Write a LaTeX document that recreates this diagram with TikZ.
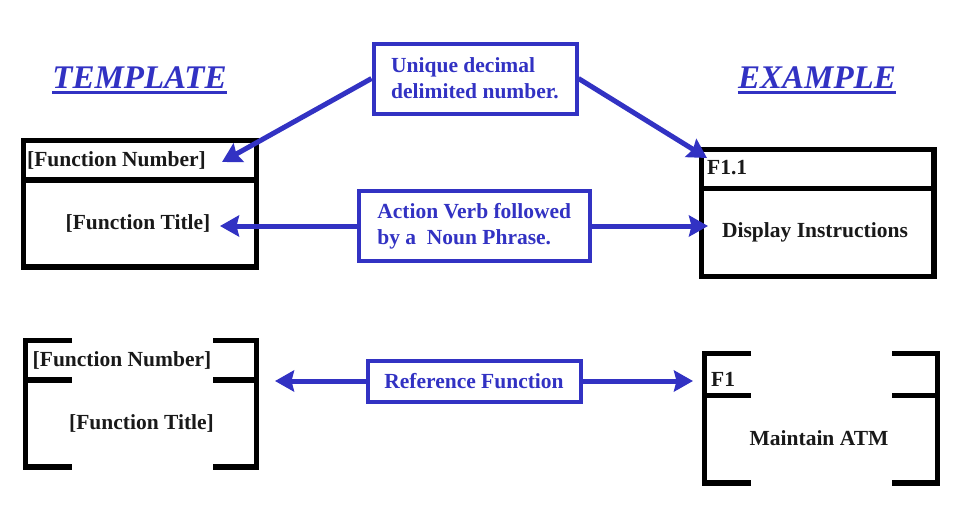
\documentclass[tikz,border=0pt]{standalone}
\usepackage{fontspec}
\setmainfont{Liberation Serif}
\usetikzlibrary{arrows.meta}
\definecolor{dblue}{RGB}{50,50,195}
\definecolor{ink}{RGB}{25,25,25}
\begin{document}
\begin{tikzpicture}[x=1pt,y=-1pt,
  every node/.style={font=\fontsize{21.5}{26}\selectfont\bfseries, inner sep=0pt, text=ink},
  bluebox/.style={draw=dblue, line width=4pt, text=dblue, align=left},
  blk/.style={draw=black, line width=5.5pt, line join=miter},
  barrow/.style={draw=dblue, line width=5pt, -{Stealth[length=19pt,width=21pt,inset=2.5pt,fill=dblue]}},
  titlefont/.style={font=\fontsize{33}{36}\selectfont\bfseries\itshape, text=dblue, anchor=base}]
\fill[white] (0,0) rectangle (971,512);
\useasboundingbox (0,0) rectangle (971,512);

% titles
\node[titlefont] (tmpl) at (139.5,88) {TEMPLATE};
\node[titlefont] (expl) at (817,88) {EXAMPLE};
\draw[dblue, line width=2.5pt] ([yshift=-4.5pt]tmpl.base west) -- ([yshift=-4.5pt]tmpl.base east);
\draw[dblue, line width=2.5pt] ([yshift=-4.5pt]expl.base west) -- ([yshift=-4.5pt]expl.base east);

% top-left box
\draw[blk] (23.5,140.5) rectangle (256.5,267);
\draw[blk] (23.5,180) -- (256.5,180);
\node[anchor=west] (tlnum) at (27,160) {[Function Number]};
\node (tltitle) at (138,223) {[Function Title]};

% top-right box
\draw[blk] (701.5,149.5) rectangle (934,276.5);
\draw[blk] (701.5,188.5) -- (934,188.5);
\node[anchor=west] (trnum) at (707,168) {F1.1};
\node (trtitle) at (815,232) {Display Instructions};

% bottom-left brackets
\draw[blk] (72,340.5) -- (25.5,340.5) -- (25.5,467) -- (72,467);
\draw[blk] (25.5,380) -- (72,380);
\draw[blk] (213,340.5) -- (256.5,340.5) -- (256.5,467) -- (213,467);
\draw[blk] (213,380) -- (256.5,380);
\node (blnum) at (122,360) {[Function Number]};
\node (bltitle) at (141.5,423) {[Function Title]};

% bottom-right brackets
\draw[blk] (751,353.5) -- (704.5,353.5) -- (704.5,483) -- (751,483);
\draw[blk] (704.5,395.5) -- (751,395.5);
\draw[blk] (892,353.5) -- (937.5,353.5) -- (937.5,483) -- (892,483);
\draw[blk] (892,395.5) -- (937.5,395.5);
\node[anchor=west] (brnum) at (711,379) {F1};
\node (brtitle) at (819,438) {Maintain ATM};

% blue boxes
\node[bluebox, minimum width=203pt, minimum height=70pt] (uniq) at (475,78.5) {Unique decimal\\delimited number.};
\node[bluebox, minimum width=230.5pt, minimum height=70.5pt] (act) at (474.25,226) {Action Verb followed\\by a\ \ Noun Phrase.};
\node[bluebox, minimum width=213pt, minimum height=41pt] (ref) at (474,381) {Reference Function};

% arrow tips
\coordinate (t1) at (222,162);
\coordinate (t2) at (707,158);
\coordinate (t3) at (220,226);
\coordinate (t4) at (708,226);
\coordinate (t5) at (275,381);
\coordinate (t6) at (693,381);

\draw[barrow] (uniq.west) -- (t1);
\draw[barrow] (uniq.east) -- (t2);
\draw[barrow] (act.west) -- (t3);
\draw[barrow] (act.east) -- (t4);
\draw[barrow] (ref.west) -- (t5);
\draw[barrow] (ref.east) -- (t6);
\end{tikzpicture}
\end{document}
